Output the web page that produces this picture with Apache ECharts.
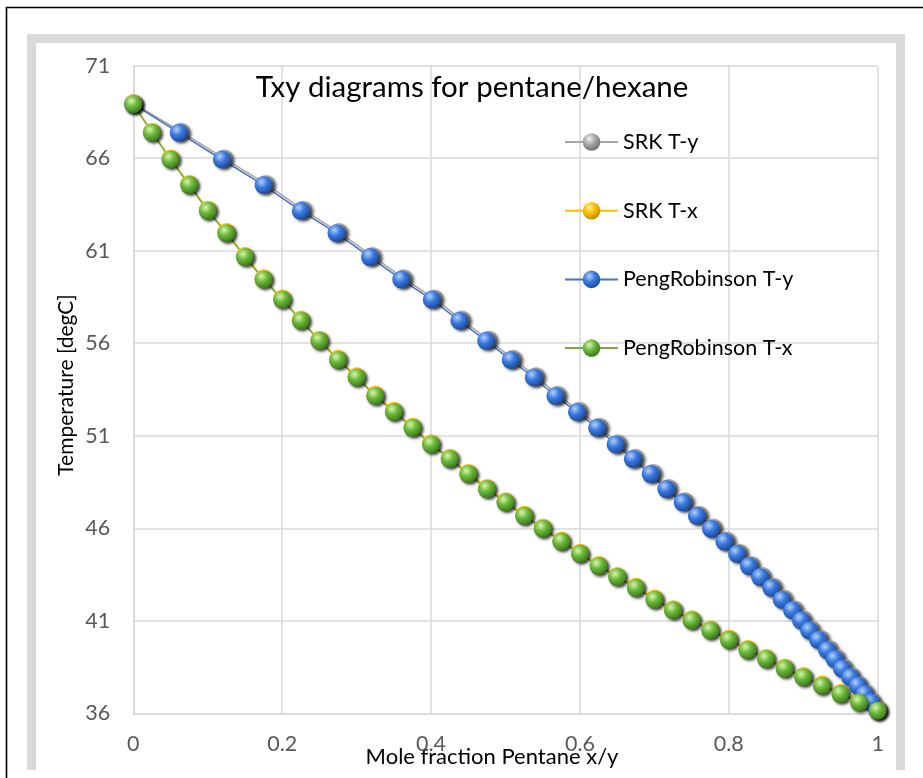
<!DOCTYPE html>
<html>
<head>
<meta charset="utf-8">
<title>Txy diagrams for pentane/hexane</title>
<script src="https://cdn.jsdelivr.net/npm/echarts@6/dist/echarts.min.js"></script>
<style>
  html, body { margin: 0; padding: 0; background: #ffffff; }
  #chart { width: 923px; height: 778px; }
</style>
</head>
<body>
<div id="chart"></div>
<script>
// Liquid mole fraction of pentane (shared composition grid)
const xGrid = [0, 0.025, 0.05, 0.075, 0.1, 0.125, 0.15, 0.175, 0.2, 0.225, 0.25, 0.275, 0.3, 0.325, 0.35, 0.375, 0.4, 0.425, 0.45, 0.475, 0.5, 0.525, 0.55, 0.575, 0.6, 0.625, 0.65, 0.675, 0.7, 0.725, 0.75, 0.775, 0.8, 0.825, 0.85, 0.875, 0.9, 0.925, 0.95, 0.975, 1];

// Peng-Robinson: bubble temperature [degC] and equilibrium vapour fraction
const prT = [68.92, 67.38, 65.93, 64.55, 63.16, 61.95, 60.66, 59.45, 58.36, 57.22, 56.13, 55.10, 54.15, 53.15, 52.29, 51.43, 50.53, 49.75, 48.93, 48.12, 47.40, 46.67, 45.98, 45.28, 44.62, 43.96, 43.36, 42.78, 42.14, 41.57, 41.02, 40.48, 39.97, 39.42, 38.93, 38.41, 37.95, 37.49, 37.04, 36.59, 36.14];
const prY = [0, 0.061, 0.119, 0.175, 0.225, 0.273, 0.318, 0.360, 0.401, 0.438, 0.474, 0.507, 0.538, 0.567, 0.596, 0.623, 0.648, 0.671, 0.695, 0.716, 0.738, 0.757, 0.776, 0.794, 0.811, 0.827, 0.842, 0.857, 0.871, 0.885, 0.897, 0.908, 0.920, 0.932, 0.942, 0.952, 0.963, 0.973, 0.982, 0.991, 1];

// SRK: bubble temperature [degC] and equilibrium vapour fraction
const srkT = [68.97, 67.43, 65.99, 64.61, 63.22, 62.01, 60.72, 59.51, 58.42, 57.28, 56.19, 55.16, 54.21, 53.21, 52.35, 51.49, 50.59, 49.81, 48.99, 48.18, 47.46, 46.73, 46.04, 45.34, 44.68, 44.02, 43.42, 42.84, 42.20, 41.63, 41.08, 40.54, 40.03, 39.48, 38.99, 38.47, 38.01, 37.55, 37.10, 36.65, 36.20];
const srkY = [0, 0.064, 0.122, 0.178, 0.228, 0.276, 0.321, 0.363, 0.404, 0.441, 0.477, 0.510, 0.541, 0.570, 0.599, 0.626, 0.651, 0.674, 0.698, 0.719, 0.741, 0.760, 0.779, 0.797, 0.814, 0.830, 0.845, 0.860, 0.874, 0.888, 0.900, 0.911, 0.923, 0.935, 0.945, 0.955, 0.965, 0.975, 0.984, 0.993, 1];

const seriesNames = ['SRK T-y', 'SRK T-x', 'PengRobinson T-y', 'PengRobinson T-x'];
const xTicks = [0, 0.2, 0.4, 0.6, 0.8, 1];
const yTicks = [36, 41, 46, 51, 56, 61, 66, 71];

const FONT = 'Lato, "Open Sans", sans-serif';

// glossy sphere fill for the markers
function sphere(light, mid, dark) {
  return new echarts.graphic.RadialGradient(0.38, 0.32, 0.72, [
    { offset: 0, color: light },
    { offset: 0.45, color: mid },
    { offset: 1, color: dark }
  ]);
}

const palette = [
  { line: '#a5a5a5', fill: sphere('#f2f2f2', '#a8a8a8', '#6e6e6e') },
  { line: '#ffc000', fill: sphere('#fff0a0', '#ffc000', '#b58600') },
  { line: '#4472c4', fill: sphere('#b3d0fa', '#3b7be0', '#1b4696') },
  { line: '#70ad47', fill: sphere('#d8f5ac', '#6cb93c', '#3a7418') }
];

function pairs(xs, ts) {
  return xs.map((v, i) => [v, ts[i]]);
}

const seriesData = [
  pairs(srkY, srkT),
  pairs(xGrid, srkT),
  pairs(prY, prT),
  pairs(xGrid, prT)
];

const chart = echarts.init(document.getElementById('chart'), null, { renderer: 'canvas' });

chart.setOption({
  backgroundColor: '#ffffff',
  animation: false,
  textStyle: { fontFamily: FONT },
  title: {
    text: 'Txy diagrams for pentane/hexane',
    left: 472,
    top: 72,
    textAlign: 'center',
    padding: 0,
    textStyle: { fontFamily: FONT, fontSize: 29.5, fontWeight: 'normal', color: '#000000' }
  },
  graphic: [
    { type: 'polyline', silent: true, z: -1,
      shape: { points: [[6.5, 778], [6.5, 7.5], [923, 7.5]] },
      style: { stroke: '#000000', lineWidth: 1.6, fill: null } },
    { type: 'rect', silent: true, z: -1, shape: { x: 27, y: 34, width: 9, height: 736 }, style: { fill: '#d9d9d9' } },
    { type: 'rect', silent: true, z: -1, shape: { x: 27, y: 34, width: 878, height: 9, r: [4, 4, 0, 0] }, style: { fill: '#d9d9d9' } },
    { type: 'rect', silent: true, z: -1, shape: { x: 896, y: 34, width: 9, height: 736 }, style: { fill: '#d9d9d9' } }
  ],
  legend: {
    data: seriesNames,
    orient: 'vertical',
    left: 564,
    top: 131,
    padding: 0,
    itemWidth: 53,
    itemHeight: 22,
    itemGap: 46.7,
    textStyle: { fontFamily: FONT, fontSize: 21.5, color: '#000000' }
  },
  grid: { left: 133.3, top: 65.7, right: 45.3, bottom: 64.7, containLabel: false, outerBoundsMode: 'none' },
  xAxis: {
    type: 'value',
    min: xTicks[0],
    max: xTicks[xTicks.length - 1],
    interval: 0.2,
    name: 'Mole fraction Pentane x/y',
    nameLocation: 'middle',
    nameGap: 33,
    nameMoveOverlap: false,
    nameTextStyle: { fontFamily: FONT, fontSize: 22, color: '#000000', padding: [0, 27, 0, 0] },
    axisLine: { lineStyle: { color: '#d9d9d9', width: 1.5 } },
    axisTick: { show: false },
    axisLabel: {
      margin: 20,
      fontFamily: FONT, fontSize: 21.5, color: '#595959',
      formatter: v => String(Math.round(v * 10) / 10)
    },
    splitLine: { lineStyle: { color: '#d9d9d9', width: 1.5 } }
  },
  yAxis: {
    type: 'value',
    min: yTicks[0],
    max: yTicks[yTicks.length - 1],
    interval: 5,
    name: 'Temperature [degC]',
    nameLocation: 'middle',
    nameGap: 57,
    nameMoveOverlap: false,
    nameTextStyle: { fontFamily: FONT, fontSize: 21, color: '#000000', padding: [0, 0, 0, 9] },
    axisLine: { show: true, lineStyle: { color: '#d9d9d9', width: 1.5 } },
    axisTick: { show: false },
    axisLabel: { margin: 23, fontFamily: FONT, fontSize: 21.5, color: '#595959' },
    splitLine: { lineStyle: { color: '#d9d9d9', width: 1.5 } }
  },
  series: seriesNames.map((name, i) => ({
    name: name,
    type: 'line',
    data: seriesData[i],
    symbol: 'circle',
    symbolSize: 18,
    showAllSymbol: true,
    clip: false,
    lineStyle: { color: palette[i].line, width: 1.5 },
    itemStyle: {
      color: palette[i].fill,
      borderWidth: 0,
      shadowBlur: 3,
      shadowOffsetX: 2,
      shadowOffsetY: 2,
      shadowColor: 'rgba(0,0,0,0.5)'
    },
    emphasis: { disabled: true }
  }))
});
</script>
</body>
</html>
